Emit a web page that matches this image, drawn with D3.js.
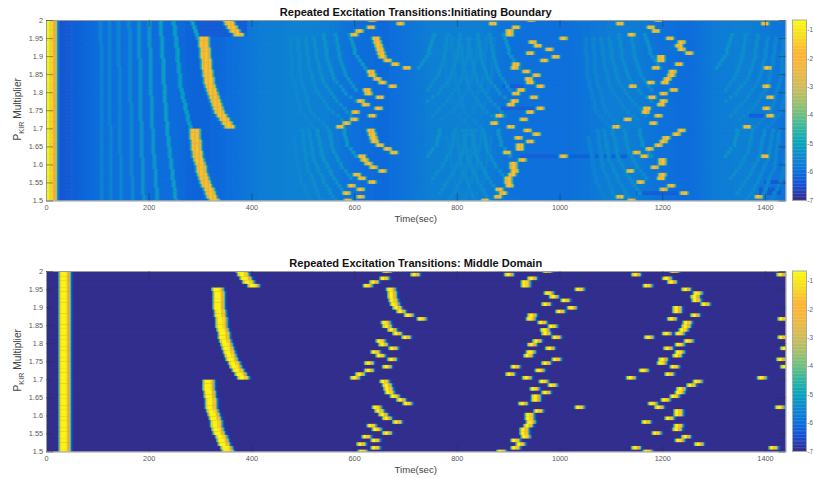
<!DOCTYPE html>
<html lang="en">

<head>
	<meta charset="utf-8">
	<script src="https://d3js.org/d3.v7.min.js"></script>
	<title>Repeated Excitation Transitions</title>
	<style>
		html, body { margin: 0; padding: 0; background: #fff; overflow: hidden; }
		text { font-family: "Liberation Sans", Arial, sans-serif; }
	</style>
</head>

<body>
	<script type="text/javascript">
		var width = 813;
		var height = 478;

		var timeTicks = [0, 200, 400, 600, 800, 1000, 1200, 1400];
		var pTicks = [1.5, 1.55, 1.6, 1.65, 1.7, 1.75, 1.8, 1.85, 1.9, 1.95, 2];
		var colorTicks = [-1, -2, -3, -4, -5, -6, -7];

		// parula colours
		var colorStops = [-7, -6.5, -6, -5.5, -5, -4.5, -4, -3.5, -3, -2.4, -1.8, -1.2, -0.65];
		var colorValues = ["#352a87", "#1a4ed0", "#0a6fdc", "#1088cf", "#06a3be", "#2fb5a0", "#6cbf7f",
			"#a5bf6a", "#d0bb5a", "#f0b93f", "#fdb52f", "#f8dd22", "#f9fb0e"];

		// excitation times (sec) per row of the Middle Domain panel, row 0 is P = 2, row 49 is P = 1.5
		var middleRows = [
			[380, 664, 977, 1225],
			[383, 720, 902, 1150, 1432],
			[388, 661, 948, 1209],
			[393, 639, 935, 1219],
			[402, 628, 935, 1173],
			[333, 672, 1041, 1247],
			[334, 674, 979, 1270],
			[334, 676, 990, 1264],
			[335, 678, 1013, 1268],
			[335, 681, 976, 1285],
			[336, 685, 1024, 1229],
			[337, 693, 1003, 1229],
			[338, 708, 948, 1264],
			[339, 732, 945, 1219, 1435],
			[340, 662, 967, 1251],
			[341, 664, 988, 1248],
			[343, 675, 972, 1242],
			[344, 685, 976, 1236, 1210],
			[346, 703, 995, 1175, 1434],
			[348, 653, 957, 1253],
			[350, 657, 948, 1235],
			[352, 678, 982, 1212, 1440],
			[355, 642, 946, 1235],
			[358, 652, 939, 1229],
			[361, 676, 995, 1203, 1433],
			[364, 631, 974, 1199],
			[368, 664, 915, 1225, 1440],
			[372, 629, 963, 1164],
			[377, 613, 906, 1214],
			[383, 602, 937, 1141, 1396],
			[315, 661, 969, 1270],
			[315, 664, 987, 1258],
			[316, 667, 953, 1238],
			[317, 670, 976, 1235],
			[318, 680, 955, 1225],
			[319, 693, 955, 1208],
			[320, 706, 931, 1182],
			[321, 644, 1039, 1196, 1430],
			[323, 650, 961, 1232],
			[325, 657, 942, 1232],
			[327, 666, 943, 1216],
			[329, 685, 946, 1169],
			[331, 635, 940, 1232],
			[333, 644, 933, 1229],
			[336, 664, 933, 1190],
			[339, 625, 935, 1248],
			[342, 642, 916, 1235],
			[345, 614, 924, 1273],
			[349, 642, 914, 1149, 1418],
			[352, 617, 887, 1173]
		];

		// the first stripe on each panel
		var middleFirstBar = [36, 40];
		var boundaryFirstBar = [10];

		// the long early curves are wider than the later pulses, by this many seconds
		var earlyCurveEnd = 410;
		var earlyCurveSpread = 5;

		// the boundary panel fires the same events earlier, by this many seconds
		var leadTimes = [300, 700, 900, 1150, 1400];
		var leadSeconds = [28, 29, 33, 32, 31];

		// pulse shapes in 2.5 sec steps, log10 values read across a pulse
		var middlePulse = [-6.9, -4.6, -1.5, -0.8, -0.8, -1.1, -1.5, -2.2, -4.2, -6.2, -6.8];
		var boundaryPulse = [-5.6, -4.4, -2.2, -1.7, -1.6, -1.7, -2.2, -4.2, -5.5];
		var boundaryBarPulse = [-0.8, -0.8, -0.8, -0.8, -0.85, -0.9, -1.2, -1.5, -1.7, -1.9, -3, -5.2, -5.9];
		var arcPulse = [0.55, 1, 1, 0.55];

		// background of the boundary panel along time
		var baseTimes = [0, 25, 50, 100, 150, 200, 250, 290, 330, 380, 420, 480, 550, 600, 650, 700, 750, 800, 850, 900, 950, 1000, 1050, 1100, 1150, 1200, 1250, 1300, 1350, 1400, 1440];
		var baseValues = [-5.9, -6.4, -6.25, -6, -6, -6.02, -6.05, -6.2, -6.1, -5.9, -5.7, -5.6, -5.7, -6, -6.1, -5.9, -5.65, -5.65, -5.7, -5.95, -6, -6, -5.85, -5.7, -5.75, -6, -6.05, -5.75, -5.65, -5.8, -5.9];

		// darker streaks on the boundary panel: row from, row to, time from, time to, value
		var boundaryStreaks = [
			[0, 4, 300, 390, -6.3],
			[24, 24, 880, 950, -6.25],
			[37, 37, 925, 1000, -6.25],
			[37, 37, 1020, 1130, -6.2],
			[47, 47, 1150, 1240, -6.25],
			[44, 44, 1400, 1440, -6.35],
			[46, 47, 1390, 1430, -6.3],
			[18, 18, 890, 930, -6.25],
			[26, 26, 1370, 1400, -6.2]
		];

		// faint arcs on the boundary panel: peak value, then row and time pairs
		var boundaryArcs = [
			[-5.6, 0, 106, 49, 108],
			[-5.6, 0, 122, 49, 125],
			[-5.55, 0, 140, 49, 145],
			[-5.5, 0, 161, 49, 167],
			[-5.3, 0, 180, 25, 183, 49, 189],
			[-5.25, 0, 200, 18, 203, 35, 208, 49, 216],
			[-5.1, 0, 222, 18, 229, 30, 235, 40, 243, 49, 252],
			[-5, 0, 248, 18, 261, 29, 279],
			[-4.9, 0, 283, 5, 296]
		];

		// arcs that come ahead of each later burst
		var burstArcs = [
			[-5.2, 4, 590, 9, 601, 13, 620],
			[-5.3, 4, 563, 10, 570, 15, 583, 19, 602],
			[-5.3, 4, 540, 10, 546, 16, 560, 20, 583, 22, 602],
			[-5.35, 5, 521, 11, 527, 17, 540, 22, 566, 26, 592],
			[-5.4, 5, 505, 12, 511, 19, 524, 24, 550, 27, 576],
			[-5.45, 5, 490, 15, 494, 25, 515, 29, 545],
			[-5.5, 5, 475, 15, 478, 25, 495, 29, 520],
			[-5.2, 30, 579, 34, 586, 37, 602],
			[-5.3, 30, 550, 35, 557, 40, 576, 43, 592],
			[-5.3, 30, 527, 37, 537, 43, 560, 47, 579],
			[-5.35, 30, 511, 38, 521, 45, 544, 49, 563],
			[-5.4, 30, 498, 40, 508, 49, 534],
			[-5.5, 32, 480, 44, 495, 49, 515]
		];
		var burstShifts = [0, 300, 575];
		var burstShiftLevel = [0, 0.05, 0.1];
		var mirrorCentres = [1345, 1925];

		var panels = [
			{ key: "boundary", title: "Repeated Excitation Transitions:Initiating Boundary", top: 20, titleY: 16, background: -6 },
			{ key: "middle", title: "Repeated Excitation Transitions: Middle Domain", top: 271, titleY: 267, background: -6.95 }
		];

		var plotLeft = 46;
		var plotRight = 785.5;
		var plotHeight = 180.5;
		var step = 2.5;

		var x = d3.scaleLinear().domain([0, 1440]).range([plotLeft, plotRight]);
		var rowToP = d3.scaleLinear().domain([0, 49]).range([2, 1.5]);
		var baseAt = d3.scaleLinear().domain(baseTimes).range(baseValues).clamp(true);
		var leadAt = d3.scaleLinear().domain(leadTimes).range(leadSeconds).clamp(true);
		var color = d3.scaleLinear().domain(colorStops).range(colorValues).clamp(true);
		var columns = d3.range(-12.5, 1452.5, step);

		var svg = d3.select("body")
			.append("svg")
			.attr("width", width)
			.attr("height", height)
			.style("display", "block");

		var defs = svg.append("defs");
		defs.append("filter")
			.attr("id", "soft")
			.attr("x", "-2%").attr("y", "-5%").attr("width", "104%").attr("height", "110%")
			.append("feGaussianBlur")
			.attr("stdDeviation", 0.75);

		// write a pulse centred on time t, keeping the highest value in each cell
		function stamp(row, t, shape) {
			var start = Math.round((t + 12.5) / step) - Math.floor(shape.length / 2);
			shape.forEach(function(v, i) {
				var c = start + i;
				if (c >= 0 && c < columns.length && v > row[c]) row[c] = v;
			});
		}

		function stampEvent(row, t, shape) {
			stamp(row, t, shape);
			if (t < earlyCurveEnd + 40 && t > earlyCurveSpread * 10) stamp(row, t + earlyCurveSpread, shape);
		}

		function stampArc(grid, arc, shift, lift, mirror) {
			var rows = [], times = [];
			for (var k = 1; k < arc.length; k += 2) {
				rows.push(arc[k]);
				times.push(arc[k + 1]);
			}
			var timeAt = d3.scaleLinear().domain(rows).range(times);
			d3.range(rows[0], rows[rows.length - 1] + 1).forEach(function(r) {
				var t = mirror ? mirror - timeAt(r) : timeAt(r) + shift;
				var c = Math.round((t + 12.5) / step);
				arcPulse.forEach(function(w, i) {
					var cc = c + i - 1;
					if (cc < 0 || cc >= columns.length) return;
					var v = baseAt(columns[cc]) + (arc[0] - lift - baseAt(columns[cc])) * w;
					if (v > grid[r][cc]) grid[r][cc] = v;
				});
			});
		}

		function buildBoundary() {
			var grid = middleRows.map(function() {
				return columns.map(function(t) { return baseAt(t); });
			});
			boundaryStreaks.forEach(function(s) {
				d3.range(s[0], s[1] + 1).forEach(function(r) {
					columns.forEach(function(t, c) {
						if (t >= s[2] && t <= s[3]) grid[r][c] = s[4];
					});
				});
			});
			boundaryArcs.forEach(function(a) { stampArc(grid, a, 0, 0); });
			burstArcs.forEach(function(a) {
				burstShifts.forEach(function(s, i) { stampArc(grid, a, s, burstShiftLevel[i]); });
				mirrorCentres.forEach(function(m) { stampArc(grid, a, 0, 0.1, m); });
			});
			middleRows.forEach(function(times, r) {
				boundaryFirstBar.forEach(function(t) { stamp(grid[r], t, boundaryBarPulse); });
				times.forEach(function(t) { stampEvent(grid[r], t - leadAt(t), boundaryPulse); });
			});
			return grid;
		}

		function buildMiddle() {
			var grid = middleRows.map(function() {
				return columns.map(function() { return -6.95; });
			});
			middleRows.forEach(function(times, r) {
				middleFirstBar.forEach(function(t) { stamp(grid[r], t, middlePulse); });
				times.forEach(function(t) { stampEvent(grid[r], t, middlePulse); });
			});
			return grid;
		}

		// merge neighbouring cells of about the same value into one rect
		function toRuns(grid) {
			var runs = [];
			grid.forEach(function(row, r) {
				var from = 0;
				for (var c = 1; c <= row.length; c++) {
					if (c === row.length || Math.round(row[c] * 20) !== Math.round(row[from] * 20)) {
						runs.push({ row: r, t0: columns[from] - step / 2, t1: columns[c - 1] + step / 2, value: row[from] });
						from = c;
					}
				}
			});
			return runs;
		}

		panels.forEach(function(panel, i) {
			var y = d3.scaleLinear().domain([1.5, 2]).range([panel.top + plotHeight, panel.top]);
			var rowHeight = Math.abs(y(rowToP(1)) - y(rowToP(0)));
			var grid = panel.key === "boundary" ? buildBoundary() : buildMiddle();

			defs.append("clipPath")
				.attr("id", "clip" + i)
				.append("rect")
				.attr("x", plotLeft)
				.attr("y", panel.top)
				.attr("width", plotRight - plotLeft)
				.attr("height", plotHeight);

			var plot = svg.append("g").attr("clip-path", "url(#clip" + i + ")");
			plot.append("rect")
				.attr("x", plotLeft)
				.attr("y", panel.top)
				.attr("width", plotRight - plotLeft)
				.attr("height", plotHeight)
				.style("fill", color(panel.background));

			plot.append("g")
				.attr("filter", "url(#soft)")
				.selectAll("rect")
				.data(toRuns(grid))
				.enter()
				.append("rect")
				.attr("x", function(d) { return x(d.t0); })
				.attr("y", function(d) { return y(rowToP(d.row)) - rowHeight / 2; })
				.attr("width", function(d) { return x(d.t1) - x(d.t0) + 0.3; })
				.attr("height", rowHeight + 0.3)
				.style("fill", function(d) { return color(d.value); });

			// axes, ticks point inward on all four sides
			var bottom = svg.append("g")
				.attr("transform", "translate(0," + (panel.top + plotHeight) + ")")
				.call(d3.axisBottom(x).tickValues(timeTicks).tickFormat(String).tickSizeInner(-7).tickSizeOuter(0).tickPadding(4));
			var topAxis = svg.append("g")
				.attr("transform", "translate(0," + panel.top + ")")
				.call(d3.axisTop(x).tickValues(timeTicks).tickFormat("").tickSizeInner(-7).tickSizeOuter(0));
			var left = svg.append("g")
				.attr("transform", "translate(" + plotLeft + ",0)")
				.call(d3.axisLeft(y).tickValues(pTicks).tickFormat(String).tickSizeInner(-7).tickSizeOuter(0).tickPadding(3));
			var right = svg.append("g")
				.attr("transform", "translate(" + plotRight + ",0)")
				.call(d3.axisRight(y).tickValues(pTicks).tickFormat("").tickSizeInner(-7).tickSizeOuter(0));

			[bottom, topAxis, left, right].forEach(function(axis) {
				axis.selectAll(".domain").style("stroke", "#9a9a9a").style("stroke-width", 1);
				axis.selectAll(".tick line").style("stroke", "#263238").style("stroke-opacity", 0.65).style("stroke-width", 0.7);
				axis.selectAll("text").style("font-size", "7.3px").style("fill", "#5a5a5a");
			});

			svg.append("text")
				.attr("x", (plotLeft + plotRight) / 2)
				.attr("y", panel.titleY)
				.attr("text-anchor", "middle")
				.style("font-size", "11.05px")
				.style("font-weight", "bold")
				.style("fill", "#111")
				.text(panel.title);

			svg.append("text")
				.attr("x", (plotLeft + plotRight) / 2)
				.attr("y", panel.top + plotHeight + 21.5)
				.attr("text-anchor", "middle")
				.style("font-size", "9.6px")
				.style("fill", "#444")
				.text("Time(sec)");

			var yLabel = svg.append("text")
				.attr("transform", "translate(21," + (panel.top + plotHeight / 2 - 1) + ") rotate(-90)")
				.attr("text-anchor", "middle")
				.style("font-size", "10.2px")
				.style("fill", "#444");
			yLabel.append("tspan").text("P");
			yLabel.append("tspan").attr("dy", 2.5).style("font-size", "7.2px").text("KIR");
			yLabel.append("tspan").attr("dy", -2.5).text(" Multiplier");

			// colorbar
			var cy = d3.scaleLinear().domain([-7, -0.65]).range([panel.top + plotHeight, panel.top]);
			var cbar = svg.append("g");
			cbar.selectAll("rect")
				.data(d3.range(-7, -0.65, 0.05))
				.enter()
				.append("rect")
				.attr("x", 792.5)
				.attr("y", function(d) { return cy(d + 0.05); })
				.attr("width", 14)
				.attr("height", function(d) { return cy(d) - cy(d + 0.05) + 0.3; })
				.style("fill", function(d) { return color(d); });
			cbar.append("rect")
				.attr("x", 792.5)
				.attr("y", panel.top)
				.attr("width", 14)
				.attr("height", plotHeight)
				.style("fill", "none")
				.style("stroke", "#a8a8a8")
				.style("stroke-width", 1);
			cbar.selectAll("text")
				.data(colorTicks)
				.enter()
				.append("text")
				.attr("x", 807.3)
				.attr("y", function(d) { return cy(d); })
				.attr("dy", ".35em")
				.style("font-size", "6.3px")
				.style("fill", "#5a5a5a")
				.text(function(d) { return d; });
		});
	</script>

</body>

</html>
